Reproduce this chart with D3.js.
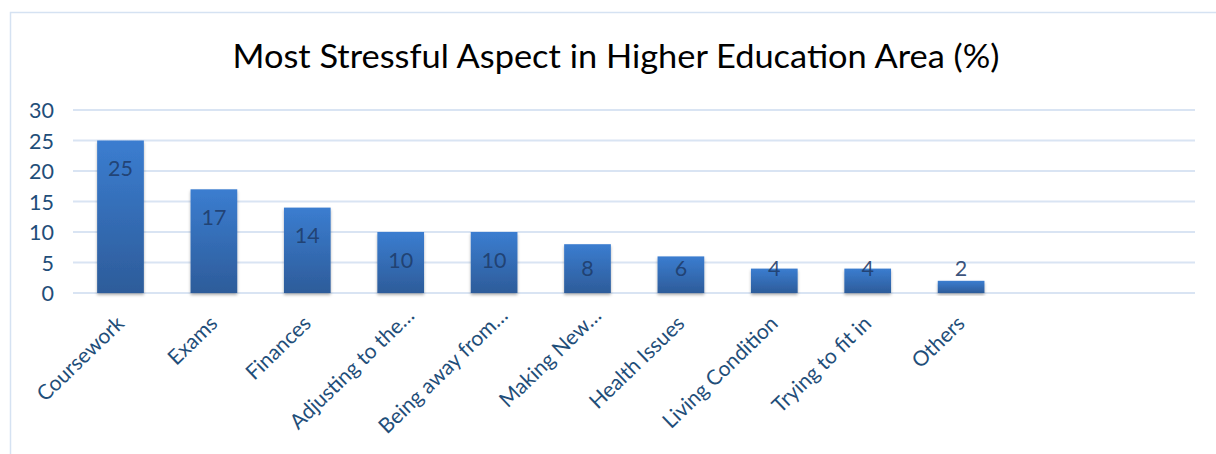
<!DOCTYPE html>
<html><head><meta charset="utf-8">
<script src="https://cdn.jsdelivr.net/npm/d3@7"></script>
<style>body{margin:0;background:#fff;}svg{display:block;}</style>
</head><body>
<script>
const title = "Most Stressful Aspect in Higher Education Area (%)";
const categories = ["Coursework","Exams","Finances","Adjusting to the…","Being away from…","Making New…","Health Issues","Living Condition","Trying to fit in","Others","",""];
const values = [25,17,14,10,10,8,6,4,4,2,null,null];
const yTicks = [0,5,10,15,20,25,30];

const W = 1216, H = 454;
const FONT = "Lato, 'Open Sans', sans-serif";
const svg = d3.select("body").append("svg").attr("width", W).attr("height", H);
const defs = svg.append("defs");
const grad = defs.append("linearGradient").attr("id","barg").attr("x1",0).attr("y1",0).attr("x2",0).attr("y2",1);
grad.append("stop").attr("offset","0%").attr("stop-color","#3b7dd0");
grad.append("stop").attr("offset","100%").attr("stop-color","#2d5c9a");
const flt = defs.append("filter").attr("id","sh").attr("x","-20%").attr("y","-20%").attr("width","140%").attr("height","140%");
flt.append("feDropShadow").attr("dx",0).attr("dy",2).attr("stdDeviation",1.5).attr("flood-color","#000").attr("flood-opacity",0.3);

// chart border
svg.append("rect").attr("x",10.5).attr("y",12.5).attr("width",W+20).attr("height",H+20)
  .attr("fill","none").attr("stroke","#d5e2f2").attr("stroke-width",1.5);

const x = d3.scaleBand().domain(d3.range(categories.length)).range([73.8,1194.6]).paddingInner(0.5).paddingOuter(0.25);
const y = d3.scaleLinear().domain([0,30]).range([293,110]);

// gridlines
svg.append("g").selectAll("line").data(yTicks).join("line")
  .attr("x1",73).attr("x2",1195).attr("y1",d=>y(d)).attr("y2",d=>y(d))
  .attr("stroke","#d9e4f3").attr("stroke-width",2);

// y axis labels
const yAxis = d3.axisLeft(y).tickValues(yTicks).tickSize(0).tickPadding(0);
const ya = svg.append("g").attr("transform","translate(54,0)").call(yAxis);
ya.select(".domain").remove();
ya.selectAll("text").attr("font-family",FONT).attr("font-size",21.5).attr("fill","#1f4e79").attr("dy","0.36em");

// title
svg.append("text").attr("x",616).attr("y",68).attr("text-anchor","middle")
  .attr("font-family",FONT).attr("font-size",33).attr("fill","#000")
  .attr("textLength",767).attr("lengthAdjust","spacingAndGlyphs").text(title);

const data = categories.map((c,i)=>({c,i,v:values[i]}));

// bars
svg.append("g").selectAll("rect").data(data.filter(d=>d.v!=null)).join("rect")
  .attr("x",d=>x(d.i)).attr("width",x.bandwidth())
  .attr("y",d=>y(d.v)).attr("height",d=>y(0)-y(d.v))
  .attr("fill","url(#barg)").attr("filter","url(#sh)");

// value labels
svg.append("g").selectAll("text").data(data.filter(d=>d.v!=null)).join("text")
  .attr("x",d=>x(d.i)+x.bandwidth()/2)
  .attr("y",d=>Math.min(y(d.v)+28, 268))
  .attr("dy","0.36em").attr("text-anchor","middle")
  .attr("font-family",FONT).attr("font-size",21.5)
  .attr("fill","#1f3d6b").attr("fill-opacity",0.9)
  .text(d=>d.v);

// x labels
const xa = svg.append("g").attr("transform","translate(0,293)").call(d3.axisBottom(x).tickSize(0).tickFormat(i=>categories[i]));
xa.select(".domain").remove();
xa.selectAll("text")
  .attr("font-family",FONT).attr("font-size",21).attr("fill","#1f4e79")
  .attr("text-anchor","end").attr("dy",0).attr("y",0)
  .attr("transform",i=>categories[i].endsWith("…") ? "translate(15,24) rotate(-44)" : "translate(5,32) rotate(-44)");
</script>
</body></html>
